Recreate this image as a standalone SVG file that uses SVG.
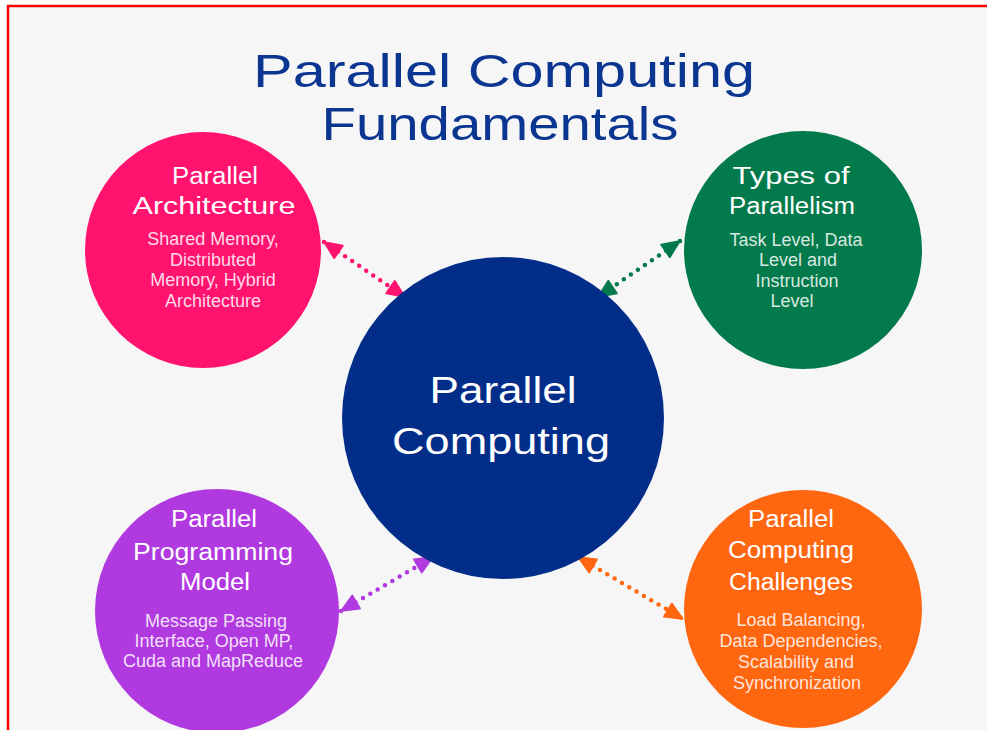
<svg xmlns="http://www.w3.org/2000/svg" width="987" height="730" viewBox="0 0 987 730">
  <defs>
    <style>
      .title { font-family: "Liberation Sans", Arial, sans-serif; font-size: 46px; fill: #0A3590; text-anchor: middle; }
      .head { font-family: "Liberation Sans", Arial, sans-serif; font-size: 23px; fill: #ffffff; text-anchor: middle; }
      .core { font-family: "Liberation Sans", Arial, sans-serif; font-size: 36px; fill: #ffffff; text-anchor: middle; }
      .sub { font-family: "Liberation Sans", Arial, sans-serif; font-size: 18px; fill: #ffffff; fill-opacity: 0.85; text-anchor: middle; }
      .link { fill: none; stroke-width: 4.5; stroke-linecap: round; stroke-dasharray: 0 8.5; }
    </style>
    <marker id="tip-pink" viewBox="0 0 20 18" refX="19" refY="9" markerWidth="20" markerHeight="18" markerUnits="userSpaceOnUse" orient="auto-start-reverse">
      <path d="M1.5,1.5 L18.5,9 L1.5,16.5 Z" fill="#FF136F" stroke="#FF136F" stroke-width="2" stroke-linejoin="round"/>
    </marker>
    <marker id="tip-green" viewBox="0 0 20 18" refX="19" refY="9" markerWidth="20" markerHeight="18" markerUnits="userSpaceOnUse" orient="auto-start-reverse">
      <path d="M1.5,1.5 L18.5,9 L1.5,16.5 Z" fill="#037A4B" stroke="#037A4B" stroke-width="2" stroke-linejoin="round"/>
    </marker>
    <marker id="tip-purple" viewBox="0 0 20 18" refX="19" refY="9" markerWidth="20" markerHeight="18" markerUnits="userSpaceOnUse" orient="auto-start-reverse">
      <path d="M1.5,1.5 L18.5,9 L1.5,16.5 Z" fill="#B03AE0" stroke="#B03AE0" stroke-width="2" stroke-linejoin="round"/>
    </marker>
    <marker id="tip-orange" viewBox="0 0 20 18" refX="19" refY="9" markerWidth="20" markerHeight="18" markerUnits="userSpaceOnUse" orient="auto-start-reverse">
      <path d="M1.5,1.5 L18.5,9 L1.5,16.5 Z" fill="#FF6610" stroke="#FF6610" stroke-width="2" stroke-linejoin="round"/>
    </marker>
  </defs>

  <!-- page -->
  <rect x="0" y="0" width="987" height="730" fill="#ffffff"/>
  <rect x="8" y="6" width="1000" height="760" fill="#f6f6f6" stroke="#ff0000" stroke-width="2.5"/>

  <!-- heading -->
  <g id="title">
    <text class="title" x="504" y="87" textLength="502" lengthAdjust="spacingAndGlyphs">Parallel Computing</text>
    <text class="title" x="500" y="140" textLength="357" lengthAdjust="spacingAndGlyphs">Fundamentals</text>
  </g>

  <!-- dotted two-way links -->
  <g id="connectors">
    <line class="link" x1="324" y1="242" x2="405" y2="297" stroke="#FF136F" marker-start="url(#tip-pink)" marker-end="url(#tip-pink)"/>
    <line class="link" x1="680" y1="241" x2="598" y2="297" stroke="#037A4B" marker-start="url(#tip-green)" marker-end="url(#tip-green)"/>
    <line class="link" x1="341" y1="611" x2="433" y2="557" stroke="#B03AE0" marker-start="url(#tip-purple)" marker-end="url(#tip-purple)"/>
    <line class="link" x1="578" y1="557" x2="683" y2="619" stroke="#FF6610" marker-start="url(#tip-orange)" marker-end="url(#tip-orange)"/>
  </g>

  <g id="parallel-architecture">
    <circle cx="203" cy="250" r="118" fill="#FF136F"/>
    <text class="head" x="215" y="184" textLength="86" lengthAdjust="spacingAndGlyphs">Parallel</text>
    <text class="head" x="214" y="214" textLength="163" lengthAdjust="spacingAndGlyphs">Architecture</text>
    <text class="sub" x="213" y="245">Shared Memory,</text>
    <text class="sub" x="213" y="266">Distributed</text>
    <text class="sub" x="213" y="286">Memory, Hybrid</text>
    <text class="sub" x="213" y="307">Architecture</text>
  </g>

  <g id="types-of-parallelism">
    <circle cx="803" cy="250" r="119" fill="#037A4B"/>
    <text class="head" x="791" y="184" textLength="117" lengthAdjust="spacingAndGlyphs">Types of</text>
    <text class="head" x="792" y="214" textLength="126" lengthAdjust="spacingAndGlyphs">Parallelism</text>
    <text class="sub" x="796" y="246">Task Level, Data</text>
    <text class="sub" x="798" y="266">Level and</text>
    <text class="sub" x="797" y="287">Instruction</text>
    <text class="sub" x="792" y="307">Level</text>
  </g>

  <g id="parallel-computing">
    <circle cx="503" cy="418" r="161" fill="#022E8A"/>
    <text class="core" x="503" y="403" textLength="147" lengthAdjust="spacingAndGlyphs">Parallel</text>
    <text class="core" x="501" y="454" textLength="218" lengthAdjust="spacingAndGlyphs">Computing</text>
  </g>

  <g id="parallel-programming-model">
    <circle cx="217" cy="611" r="122" fill="#B03AE0"/>
    <text class="head" x="214" y="527" textLength="86" lengthAdjust="spacingAndGlyphs">Parallel</text>
    <text class="head" x="213" y="560" textLength="160" lengthAdjust="spacingAndGlyphs">Programming</text>
    <text class="head" x="215" y="590" textLength="70" lengthAdjust="spacingAndGlyphs">Model</text>
    <text class="sub" x="216" y="627">Message Passing</text>
    <text class="sub" x="214" y="647">Interface, Open MP,</text>
    <text class="sub" x="213" y="667">Cuda and MapReduce</text>
  </g>

  <g id="parallel-computing-challenges">
    <circle cx="803" cy="609" r="119" fill="#FF6610"/>
    <text class="head" x="791" y="527" textLength="86" lengthAdjust="spacingAndGlyphs">Parallel</text>
    <text class="head" x="791" y="558" textLength="126" lengthAdjust="spacingAndGlyphs">Computing</text>
    <text class="head" x="791" y="590" textLength="124" lengthAdjust="spacingAndGlyphs">Challenges</text>
    <text class="sub" x="801" y="626">Load Balancing,</text>
    <text class="sub" x="801" y="647">Data Dependencies,</text>
    <text class="sub" x="796" y="668">Scalability and</text>
    <text class="sub" x="797" y="689">Synchronization</text>
  </g>
</svg>
